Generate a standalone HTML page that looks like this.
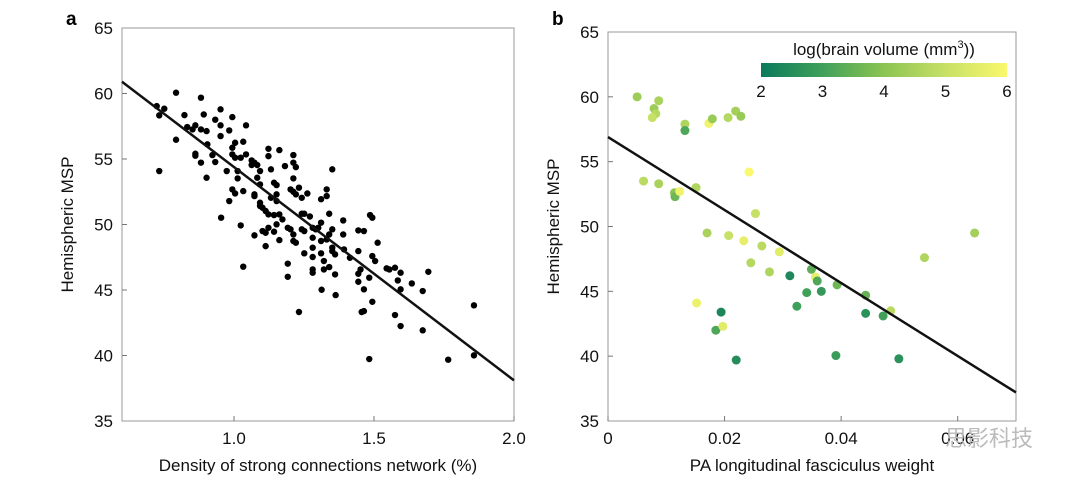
<!DOCTYPE html>
<html><head><meta charset="utf-8"><style>
body{margin:0;background:#fff;}
svg text{font-family:"Liberation Sans","Noto Sans CJK SC",sans-serif;}
</style></head><body>
<svg id="fig" width="1080" height="489" xmlns="http://www.w3.org/2000/svg"></svg>
<script>
// Panel a data
const aX = [0.724,0.733,0.751,0.733,0.793,0.793,0.823,0.833,0.852,0.862,0.882,0.882,0.892,0.902,0.905,0.862,0.862,0.882,0.902,0.923,0.933,0.933,0.952,0.952,0.952,0.954,0.974,0.983,0.994,0.994,1.004,0.994,1.004,1.024,1.013,1.013,1.033,1.043,1.043,1.033,0.983,0.994,1.004,1.024,1.033,1.063,1.063,1.073,1.083,1.093,1.083,1.093,1.073,1.073,1.093,1.093,1.102,1.113,1.123,1.123,1.132,1.143,1.152,1.162,1.182,1.212,1.212,1.221,1.212,1.202,1.212,1.232,1.221,1.242,1.262,1.152,1.152,1.132,1.123,1.143,1.162,1.173,1.152,1.123,1.113,1.073,1.102,1.143,1.162,1.192,1.202,1.212,1.212,1.221,1.242,1.251,1.242,1.251,1.271,1.281,1.292,1.301,1.311,1.311,1.331,1.331,1.351,1.340,1.351,1.340,1.331,1.311,1.281,1.281,1.281,1.251,1.311,1.321,1.340,1.321,1.281,1.281,1.351,1.361,1.351,1.361,1.390,1.390,1.393,1.414,1.444,1.464,1.444,1.494,1.486,1.494,1.504,1.513,1.444,1.452,1.483,1.444,1.464,1.494,1.545,1.555,1.575,1.595,1.585,1.595,1.635,1.674,1.694,1.575,1.595,1.674,1.456,1.464,1.232,1.192,1.192,1.113,1.313,1.363,1.483,1.765,1.857,1.857];
const aY = [59.04,58.33,58.84,54.08,60.06,56.47,58.35,57.44,57.26,57.57,59.68,57.26,58.40,57.13,56.12,55.40,55.25,54.72,53.57,55.30,58.00,54.77,58.79,57.57,56.75,50.52,54.08,57.18,58.20,55.86,56.24,55.35,55.10,55.10,54.08,53.52,56.32,57.57,55.35,52.55,51.79,52.68,52.37,49.93,46.78,54.89,54.54,54.72,54.54,54.08,53.57,53.06,52.30,52.17,51.66,51.41,51.28,51.03,55.78,55.22,54.21,53.19,53.01,55.68,54.46,55.30,54.72,54.38,53.52,52.68,52.50,52.81,52.30,52.04,52.37,52.30,51.79,52.04,50.77,50.72,50.77,50.39,50.01,49.75,49.37,49.17,49.50,49.45,48.81,49.75,49.63,49.24,48.74,48.61,49.63,49.50,50.82,50.82,50.61,49.75,49.63,49.75,50.14,51.93,52.17,52.68,54.21,50.82,49.63,49.24,48.86,48.74,48.99,48.23,47.52,47.80,47.80,47.21,46.75,46.57,46.57,46.32,47.97,47.72,48.23,46.19,50.31,49.24,48.10,47.46,49.55,49.50,47.97,50.52,50.72,47.59,47.21,48.61,46.24,46.57,45.94,45.63,45.05,44.10,46.65,46.57,46.70,46.32,45.73,45.05,45.50,44.92,46.39,43.09,42.25,41.92,43.32,43.39,43.32,46.01,47.01,48.35,45.02,44.61,39.73,39.68,40.01,43.83];
const aLine = [60.9, 38.1]; // fitted values at x=0.6 and x=2.0
const aXTicks = [1.0, 1.5, 2.0];
const aXTickLabels = ["1.0","1.5","2.0"];
const yTicks = [35,40,45,50,55,60,65];
const yTickLabels = ["35","40","45","50","55","60","65"];
// Panel b data
const bX = [0.0050,0.0087,0.0079,0.0082,0.0076,0.0132,0.0132,0.0173,0.0179,0.0206,0.0219,0.0228,0.0242,0.0061,0.0087,0.0114,0.0115,0.0123,0.0151,0.0253,0.0170,0.0207,0.0233,0.0264,0.0294,0.0245,0.0277,0.0312,0.0349,0.0356,0.0359,0.0366,0.0341,0.0393,0.0324,0.0442,0.0442,0.0472,0.0485,0.0543,0.0629,0.0152,0.0194,0.0185,0.0197,0.0220,0.0391,0.0499];
const bY = [60.0,59.7,59.1,58.7,58.4,57.9,57.4,57.95,58.3,58.4,58.9,58.5,54.2,53.5,53.3,52.6,52.3,52.7,53.0,51.0,49.5,49.3,48.9,48.5,48.05,47.2,46.5,46.2,46.7,46.1,45.8,45.0,44.9,45.5,43.85,44.7,43.3,43.1,43.5,47.6,49.5,44.1,43.4,42.0,42.3,39.7,40.05,39.8];
const bC = [4.3,4.5,4.3,4.7,5.0,4.6,3.2,5.8,4.2,4.7,4.4,4.2,6.0,4.8,4.5,4.0,3.6,5.8,4.6,5.0,4.5,5.0,5.6,4.8,5.5,4.7,4.6,2.4,3.4,5.6,3.2,2.8,3.0,3.6,3.0,3.5,2.6,3.0,4.8,4.6,4.4,5.7,2.3,3.2,5.5,2.5,2.9,2.6];
const bLine = [56.9, 37.2]; // fitted values at x=0 and x=0.07
const bXTicks = [0, 0.02, 0.04, 0.06];
const bXTickLabels = ["0","0.02","0.04","0.06"];
const cTicks = [2,3,4,5,6];
const cTickLabels = ["2","3","4","5","6"];

const NS="http://www.w3.org/2000/svg";
const svg=document.getElementById('fig');
function mk(tag,attrs,parent){const e=document.createElementNS(NS,tag);for(const k in attrs)e.setAttribute(k,attrs[k]);(parent||svg).appendChild(e);return e;}
const stops=[[2,[11,122,92]],[3,[63,160,90]],[4,[140,196,82]],[5,[199,224,102]],[6,[250,248,108]]];
function cmap(v){v=Math.max(2,Math.min(6,v));for(let i=0;i<stops.length-1;i++){const [a,ca]=stops[i],[b,cb]=stops[i+1];if(v<=b){const t=(v-a)/(b-a);return 'rgb('+ca.map((c,j)=>Math.round(c+(cb[j]-c)*t)).join(',')+')';}}return 'rgb(250,248,108)';}

function panel(p){
  const g=mk('g',{});
  
  
  const sx=v=>p.L+(v-p.x0)/(p.x1-p.x0)*(p.R-p.L);
  const sy=v=>p.B-(v-35)/30*(p.B-p.T);
  const fr=mk('rect',{x:p.L,y:p.T,width:p.R-p.L,height:p.B-p.T,fill:'none',stroke:'#999','stroke-width':1},g);
  
  
  yTicks.forEach((t,i)=>{
    const y=sy(t);
    if(i>0&&i<yTicks.length-1) mk('line',{x1:p.L,x2:p.L+5,y1:y,y2:y,stroke:'#777'},g);
    const tx=mk('text',{x:p.L-9,y:y+6,'text-anchor':'end','font-size':17,fill:'#111'},g);
    tx.textContent=yTickLabels[i];
    
    
  });
  p.xt.forEach((t,i)=>{
    const x=sx(t);
    mk('line',{x1:x,x2:x,y1:p.B,y2:p.B-5,stroke:'#777'},g);
    const tx=mk('text',{x:x,y:p.B+23,'text-anchor':'middle','font-size':17,fill:'#111'},g);
    tx.textContent=p.xl[i];
    
    
  });
  p.X.forEach((v,i)=>{
    const c=mk('circle',{cx:sx(v),cy:sy(p.Y[i]),r:p.r,fill:p.C?cmap(p.C[i]):'#000'},g);
    
    
  });
  const ln=mk('line',{x1:sx(p.x0),y1:sy(p.line[0]),x2:sx(p.x1),y2:sy(p.line[1]),stroke:'#111','stroke-width':2.5},g);
  
  
  const yl=mk('text',{x:0,y:0,transform:'translate('+(p.L-49)+','+((p.T+p.B)/2)+') rotate(-90)','text-anchor':'middle','font-size':17,fill:'#111'},g);
  yl.textContent='Hemispheric MSP';
  
  
  const xl=mk('text',{x:(p.L+p.R)/2,y:471,'text-anchor':'middle','font-size':17,fill:'#111'},g);
  xl.textContent=p.xtitle;
  
  
  const lb=mk('text',{x:p.L-56,y:25,'font-size':19,'font-weight':'bold',fill:'#000'},g);
  lb.textContent=p.letter;
  
  
}
panel({name:'panel-a',L:122,R:514,T:28,B:421,x0:0.6,x1:2.0,X:aX,Y:aY,r:3.2,line:aLine,xt:aXTicks,xl:aXTickLabels,xtitle:'Density of strong connections network (%)',letter:'a'});
panel({name:'panel-b',L:608,R:1016,T:32,B:421,x0:0,x1:0.07,X:bX,Y:bY,C:bC,r:4.5,line:bLine,xt:bXTicks,xl:bXTickLabels,xtitle:'PA longitudinal fasciculus weight',letter:'b'});

// colorbar
const defs=mk('defs',{});
const lg=mk('linearGradient',{id:'cb',x1:0,x2:1,y1:0,y2:0},defs);
stops.forEach(s=>mk('stop',{offset:((s[0]-2)/4),'stop-color':cmap(s[0])},lg));
const cbL=761,cbR=1007;
const cb=mk('rect',{x:cbL,y:63,width:cbR-cbL,height:14,fill:'url(#cb)'});


cTicks.forEach((t,i)=>{
  const tx=mk('text',{x:cbL+(t-2)/4*(cbR-cbL),y:97,'text-anchor':'middle','font-size':17,fill:'#111'});
  tx.textContent=cTickLabels[i];
  
  
});
const ct=mk('text',{x:884,y:55,'text-anchor':'middle','font-size':17,fill:'#111'});
ct.innerHTML='log(brain volume (mm<tspan dy="-7" font-size="11">3</tspan><tspan dy="7">))</tspan>';


const wm=mk('text',{x:945,y:446,'font-size':22,fill:'#bbb'});
wm.textContent='思影科技';


</script>
</body></html>
